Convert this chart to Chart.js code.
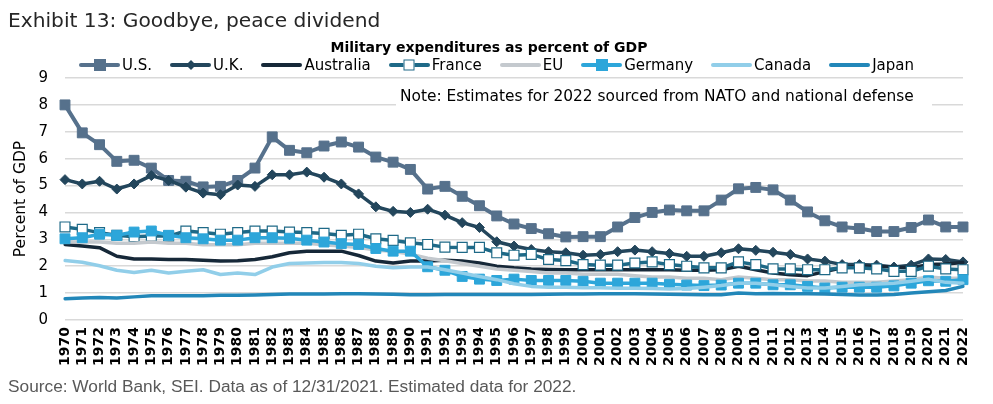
<!DOCTYPE html>
<html>
<head>
<meta charset="utf-8">
<script src="https://cdn.jsdelivr.net/npm/chart.js@4.4.0/dist/chart.umd.min.js"></script>
<style>
  body { margin: 0; background: #fff; font-family: "DejaVu Sans", sans-serif; }
  #wrap { position: relative; width: 993px; height: 404px; overflow: hidden; }
  #chart { position: absolute; left: 0; top: 0; }
  .title { position: absolute; left: 8px; top: 8px; font-size: 20.2px; line-height: 24px; color: #262626; white-space: nowrap; }
  .sub { position: absolute; left: 0; width: 978px; top: 38px; text-align: center; font-size: 14px; line-height: 18px; font-weight: bold; color: #000; }
  .legend { position: absolute; left: 0; width: 993px; top: 56px; display: flex; justify-content: center; font-size: 15px; line-height: 18px; color: #000; }
  .item { display: flex; align-items: center; margin: 0 9px; white-space: nowrap; }
  .sw { position: relative; width: 41px; height: 4px; border-radius: 2px; margin-right: 2px; }
  .mk { position: absolute; left: 50%; top: 50%; transform: translate(-50%, -50%); box-sizing: border-box; }
  .footer { position: absolute; left: 8px; top: 376px; font-family: "Liberation Sans Narrow", sans-serif; font-size: 17.3px; line-height: 20px; color: #595959; white-space: nowrap; }
</style>
</head>
<body>
<div id="wrap">
  <canvas id="chart" width="993" height="404"></canvas>
  <div class="title">Exhibit 13: Goodbye, peace dividend</div>
  <div class="sub">Military expenditures as percent of GDP</div>
  <div class="legend" id="legend"></div>
  <div class="footer">Source: World Bank, SEI. Data as of 12/31/2021. Estimated data for 2022.</div>
</div>
<script>
// years on the x axis
const years = [];
for (let y = 1970; y <= 2022; y++) years.push(String(y));

const yTicks = [0, 1, 2, 3, 4, 5, 6, 7, 8, 9];

const us = [8.0, 6.96, 6.52, 5.9, 5.94, 5.65, 5.19, 5.16, 4.95, 4.97,
  5.19, 5.65, 6.81, 6.31, 6.22, 6.47, 6.62, 6.43, 6.06, 5.87,
  5.6, 4.87, 4.97, 4.6, 4.25, 3.87, 3.57, 3.4, 3.21, 3.09,
  3.1, 3.1, 3.46, 3.81, 4.0, 4.09, 4.06, 4.06, 4.46, 4.88,
  4.93, 4.84, 4.46, 4.02, 3.69, 3.46, 3.4, 3.29, 3.29, 3.44,
  3.72, 3.46, 3.46];
const uk = [5.22, 5.06, 5.16, 4.87, 5.06, 5.37, 5.19, 4.94, 4.72, 4.66,
  5.02, 4.97, 5.4, 5.4, 5.5, 5.31, 5.06, 4.69, 4.21, 4.04,
  4.0, 4.12, 3.9, 3.62, 3.44, 2.91, 2.75, 2.62, 2.54, 2.5,
  2.41, 2.44, 2.54, 2.6, 2.54, 2.47, 2.37, 2.37, 2.5, 2.65,
  2.59, 2.52, 2.44, 2.27, 2.19, 2.06, 2.06, 2.04, 1.97, 2.04,
  2.27, 2.25, 2.16];
const australia = [2.81, 2.75, 2.69, 2.37, 2.27, 2.27, 2.25, 2.25, 2.22, 2.19,
  2.2, 2.25, 2.35, 2.5, 2.56, 2.56, 2.56, 2.4, 2.19, 2.12,
  2.19, 2.19, 2.22, 2.19, 2.12, 2.0, 1.94, 1.9, 1.88, 1.87,
  1.87, 1.87, 1.87, 1.87, 1.87, 1.87, 1.85, 1.85, 1.87, 2.0,
  1.87, 1.75, 1.68, 1.65, 1.8, 1.94, 2.0, 2.0, 1.97, 1.94,
  2.06, 2.08, 2.14];
const france = [3.46, 3.37, 3.25, 3.15, 3.1, 3.12, 3.12, 3.31, 3.25, 3.19,
  3.25, 3.31, 3.31, 3.27, 3.25, 3.22, 3.15, 3.19, 3.02, 2.96,
  2.87, 2.81, 2.71, 2.7, 2.7, 2.5, 2.41, 2.44, 2.25, 2.21,
  2.06, 2.04, 2.04, 2.12, 2.16, 2.06, 2.0, 1.94, 1.94, 2.16,
  2.06, 1.9, 1.9, 1.87, 1.87, 1.94, 1.94, 1.9, 1.81, 1.81,
  2.0, 1.9, 1.87];
const eu = [2.9, 2.9, 2.9, 2.85, 2.85, 2.9, 2.85, 2.85, 2.8, 2.8,
  2.8, 2.85, 2.85, 2.85, 2.85, 2.8, 2.75, 2.7, 2.6, 2.55,
  2.45, 2.3, 2.2, 2.1, 2.0, 1.9, 1.85, 1.8, 1.75, 1.75,
  1.7, 1.7, 1.7, 1.65, 1.6, 1.6, 1.55, 1.55, 1.5, 1.6,
  1.55, 1.5, 1.5, 1.45, 1.45, 1.4, 1.4, 1.4, 1.45, 1.5,
  1.6, 1.55, 1.55];
const germany = [3.02, 3.06, 3.19, 3.15, 3.27, 3.31, 3.15, 3.06, 3.02, 2.97,
  2.97, 3.06, 3.06, 3.04, 2.97, 2.9, 2.84, 2.81, 2.66, 2.56,
  2.56, 1.98, 1.85, 1.62, 1.52, 1.47, 1.52, 1.47, 1.47, 1.47,
  1.44, 1.37, 1.37, 1.37, 1.37, 1.33, 1.3, 1.28, 1.3, 1.37,
  1.37, 1.31, 1.31, 1.25, 1.19, 1.22, 1.22, 1.22, 1.27, 1.37,
  1.46, 1.44, 1.5];
const canada = [2.21, 2.15, 2.02, 1.85, 1.77, 1.85, 1.75, 1.81, 1.87, 1.69,
  1.75, 1.69, 1.97, 2.1, 2.12, 2.14, 2.14, 2.1, 2.0, 1.94,
  1.97, 1.97, 1.87, 1.75, 1.62, 1.5, 1.35, 1.25, 1.22, 1.22,
  1.2, 1.2, 1.18, 1.18, 1.17, 1.15, 1.17, 1.22, 1.28, 1.37,
  1.37, 1.31, 1.25, 1.19, 1.19, 1.25, 1.31, 1.34, 1.37, 1.44,
  1.52, 1.4, 1.37];
const japan = [0.79, 0.82, 0.84, 0.82, 0.86, 0.9, 0.9, 0.9, 0.9, 0.92,
  0.92, 0.93, 0.95, 0.97, 0.97, 0.97, 0.98, 0.98, 0.97, 0.96,
  0.94, 0.94, 0.95, 0.95, 0.95, 0.95, 0.95, 0.95, 0.96, 0.97,
  0.97, 0.98, 0.98, 0.98, 0.97, 0.96, 0.95, 0.94, 0.94, 1.0,
  0.98, 0.99, 0.98, 0.98, 0.97, 0.95, 0.93, 0.93, 0.95, 1.0,
  1.05, 1.1, 1.25];

const note = 'Note: Estimates for 2022 sourced from NATO and national defense';

// series style: marker is '', 'square', 'diamond' or 'hollow'
const series = [
  { label: 'U.S.', data: us, color: '#56718c', width: 4, marker: 'square' },
  { label: 'U.K.', data: uk, color: '#23465c', width: 3.5, marker: 'diamond' },
  { label: 'Australia', data: australia, color: '#162838', width: 3.5, marker: '' },
  { label: 'France', data: france, color: '#1e6987', width: 3.5, marker: 'hollow' },
  { label: 'EU', data: eu, color: '#c4c9ce', width: 3.5, marker: '' },
  { label: 'Germany', data: germany, color: '#2da6da', width: 3.5, marker: 'square' },
  { label: 'Canada', data: canada, color: '#91cee9', width: 3.5, marker: '' },
  { label: 'Japan', data: japan, color: '#2287b9', width: 3.5, marker: '' }
];

function makeDataset(s, i) {
  const ds = {
    label: s.label,
    data: s.data,
    borderColor: s.color,
    backgroundColor: s.color,
    borderWidth: s.width,
    borderJoinStyle: 'round',
    borderCapStyle: 'round',
    tension: 0,
    order: series.length - i,
    pointRadius: 0,
    pointHoverRadius: 0
  };
  if (s.marker === 'square') {
    ds.pointStyle = 'rect';
    ds.pointRadius = 7;
    ds.pointBackgroundColor = s.color;
    ds.pointBorderColor = s.color;
    ds.pointBorderWidth = 1;
  } else if (s.marker === 'diamond') {
    ds.pointStyle = 'rectRot';
    ds.pointRadius = 5;
    ds.pointBackgroundColor = s.color;
    ds.pointBorderColor = s.color;
    ds.pointBorderWidth = 1;
  } else if (s.marker === 'hollow') {
    ds.pointStyle = 'rect';
    ds.pointRadius = 7;
    ds.pointBackgroundColor = '#fff';
    ds.pointBorderColor = s.color;
    ds.pointBorderWidth = 1.2;
  }
  return ds;
}

// legend in html, line sample with the marker on it
const legendEl = document.getElementById('legend');
series.forEach(s => {
  const item = document.createElement('div');
  item.className = 'item';
  const sw = document.createElement('span');
  sw.className = 'sw';
  sw.style.background = s.color;
  if (s.marker) {
    const mk = document.createElement('span');
    mk.className = 'mk';
    if (s.marker === 'square') {
      mk.style.cssText += 'width:12px;height:12px;background:' + s.color;
    } else if (s.marker === 'diamond') {
      mk.style.cssText += 'width:7px;height:7px;background:' + s.color + ';transform:translate(-50%,-50%) rotate(45deg)';
    } else {
      mk.style.cssText += 'width:11px;height:11px;background:#fff;border:1.5px solid ' + s.color;
    }
    sw.appendChild(mk);
  }
  const txt = document.createElement('span');
  txt.textContent = s.label;
  item.appendChild(sw);
  item.appendChild(txt);
  legendEl.appendChild(item);
});

// white box with the note, on top of the grid, under the lines
const notePlugin = {
  id: 'note',
  beforeDatasetsDraw(chart) {
    const ctx = chart.ctx;
    ctx.save();
    ctx.fillStyle = '#fff';
    ctx.fillRect(396, 86, 536, 23);
    ctx.fillStyle = '#000';
    ctx.font = '15.4px "DejaVu Sans"';
    ctx.textBaseline = 'alphabetic';
    ctx.fillText(note, 400, 101);
    ctx.restore();
  }
};

new Chart(document.getElementById('chart'), {
  type: 'line',
  data: { labels: years, datasets: series.map(makeDataset) },
  plugins: [notePlugin],
  options: {
    responsive: false,
    animation: false,
    devicePixelRatio: 1,
    events: [],
    layout: { padding: { top: 78, right: 30, bottom: 36, left: 0 } },
    plugins: {
      legend: { display: false },
      tooltip: { enabled: false },
      title: { display: false }
    },
    scales: {
      x: {
        offset: false,
        grid: { display: false, drawTicks: false },
        border: { display: false },
        ticks: {
          autoSkip: false, maxRotation: 90, minRotation: 90, padding: 7,
          color: '#000',
          font: { family: 'DejaVu Sans', weight: 'bold', size: 14 }
        },
        afterFit(s) { s.height = 48; }
      },
      y: {
        min: yTicks[0],
        max: yTicks[yTicks.length - 1],
        afterBuildTicks(s) { s.ticks = yTicks.map(v => ({ value: v })); },
        grid: { color: '#d9d9d9', lineWidth: 1.5, drawTicks: false },
        border: { display: false },
        ticks: { padding: 17, color: '#000', font: { family: 'DejaVu Sans', size: 15 } },
        title: {
          display: true, text: 'Percent of GDP', color: '#000',
          font: { family: 'DejaVu Sans', size: 15.5 },
          padding: { top: 12, bottom: 0 }
        },
        afterFit(s) { s.width = 65; }
      }
    }
  }
});
</script>
</body>
</html>
